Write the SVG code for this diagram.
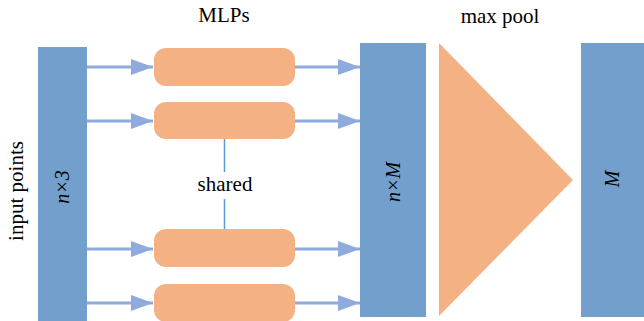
<svg xmlns="http://www.w3.org/2000/svg" width="644" height="321" viewBox="0 0 644 321">
<defs>
<marker id="ah" markerUnits="userSpaceOnUse" markerWidth="22" markerHeight="16" refX="22" refY="8" orient="auto"><path d="M0,0 L22,8 L0,16 Z" fill="#8faadc"/></marker>
</defs>
<style>
.bar{fill:#739fcc}
.mlp{fill:#f4b183}
.ar{stroke:#8faadc;stroke-width:3;fill:none;marker-end:url(#ah)}
.t{font-family:'Liberation Serif',serif;font-size:21px;fill:#000}
.it{font-family:'Liberation Serif',serif;font-size:20px;font-style:italic;fill:#000}
</style>
<text class="t" x="224" y="22" text-anchor="middle">MLPs</text>
<text class="t" x="500" y="23" text-anchor="middle">max pool</text>
<text class="t" transform="translate(23,191) rotate(-90)" text-anchor="middle">input points</text>
<g id="input"><rect class="bar" x="38" y="47" width="49" height="274"/><text class="it" transform="translate(69,187) rotate(-90)" text-anchor="middle">n×3</text></g>
<g id="mlp1"><rect class="mlp" x="154" y="48" width="141" height="38" rx="12"/></g>
<g id="mlp2"><rect class="mlp" x="154" y="102" width="141" height="37" rx="12"/></g>
<g id="mlp3"><rect class="mlp" x="154" y="229" width="141" height="38" rx="12"/></g>
<g id="mlp4"><rect class="mlp" x="154" y="284" width="141" height="38" rx="12"/></g>
<g id="feat"><rect class="bar" x="360" y="43" width="66" height="274"/><text class="it" transform="translate(400,182) rotate(-90)" text-anchor="middle">n×M</text></g>
<g id="pool"><polygon class="mlp" points="439,43 573,180 439,316"/></g>
<g id="global"><rect class="bar" x="581" y="43" width="70" height="274"/><text class="it" transform="translate(619,179) rotate(-90)" text-anchor="middle">M</text></g>
<g id="connectors">
<line class="ar" x1="87" y1="67" x2="153" y2="67"/>
<line class="ar" x1="87" y1="121" x2="153" y2="121"/>
<line class="ar" x1="87" y1="249" x2="153" y2="249"/>
<line class="ar" x1="87" y1="303" x2="153" y2="303"/>
<line class="ar" x1="295" y1="67" x2="360" y2="67"/>
<line class="ar" x1="295" y1="121" x2="360" y2="121"/>
<line class="ar" x1="295" y1="249" x2="360" y2="249"/>
<line class="ar" x1="295" y1="303" x2="360" y2="303"/>
<line x1="224.5" y1="139" x2="224.5" y2="172" stroke="#5b9bd5" stroke-width="1.5"/>
<line x1="224.5" y1="199" x2="224.5" y2="229" stroke="#5b9bd5" stroke-width="1.5"/>
</g>
<text class="t" x="225" y="191" text-anchor="middle">shared</text>
</svg>
